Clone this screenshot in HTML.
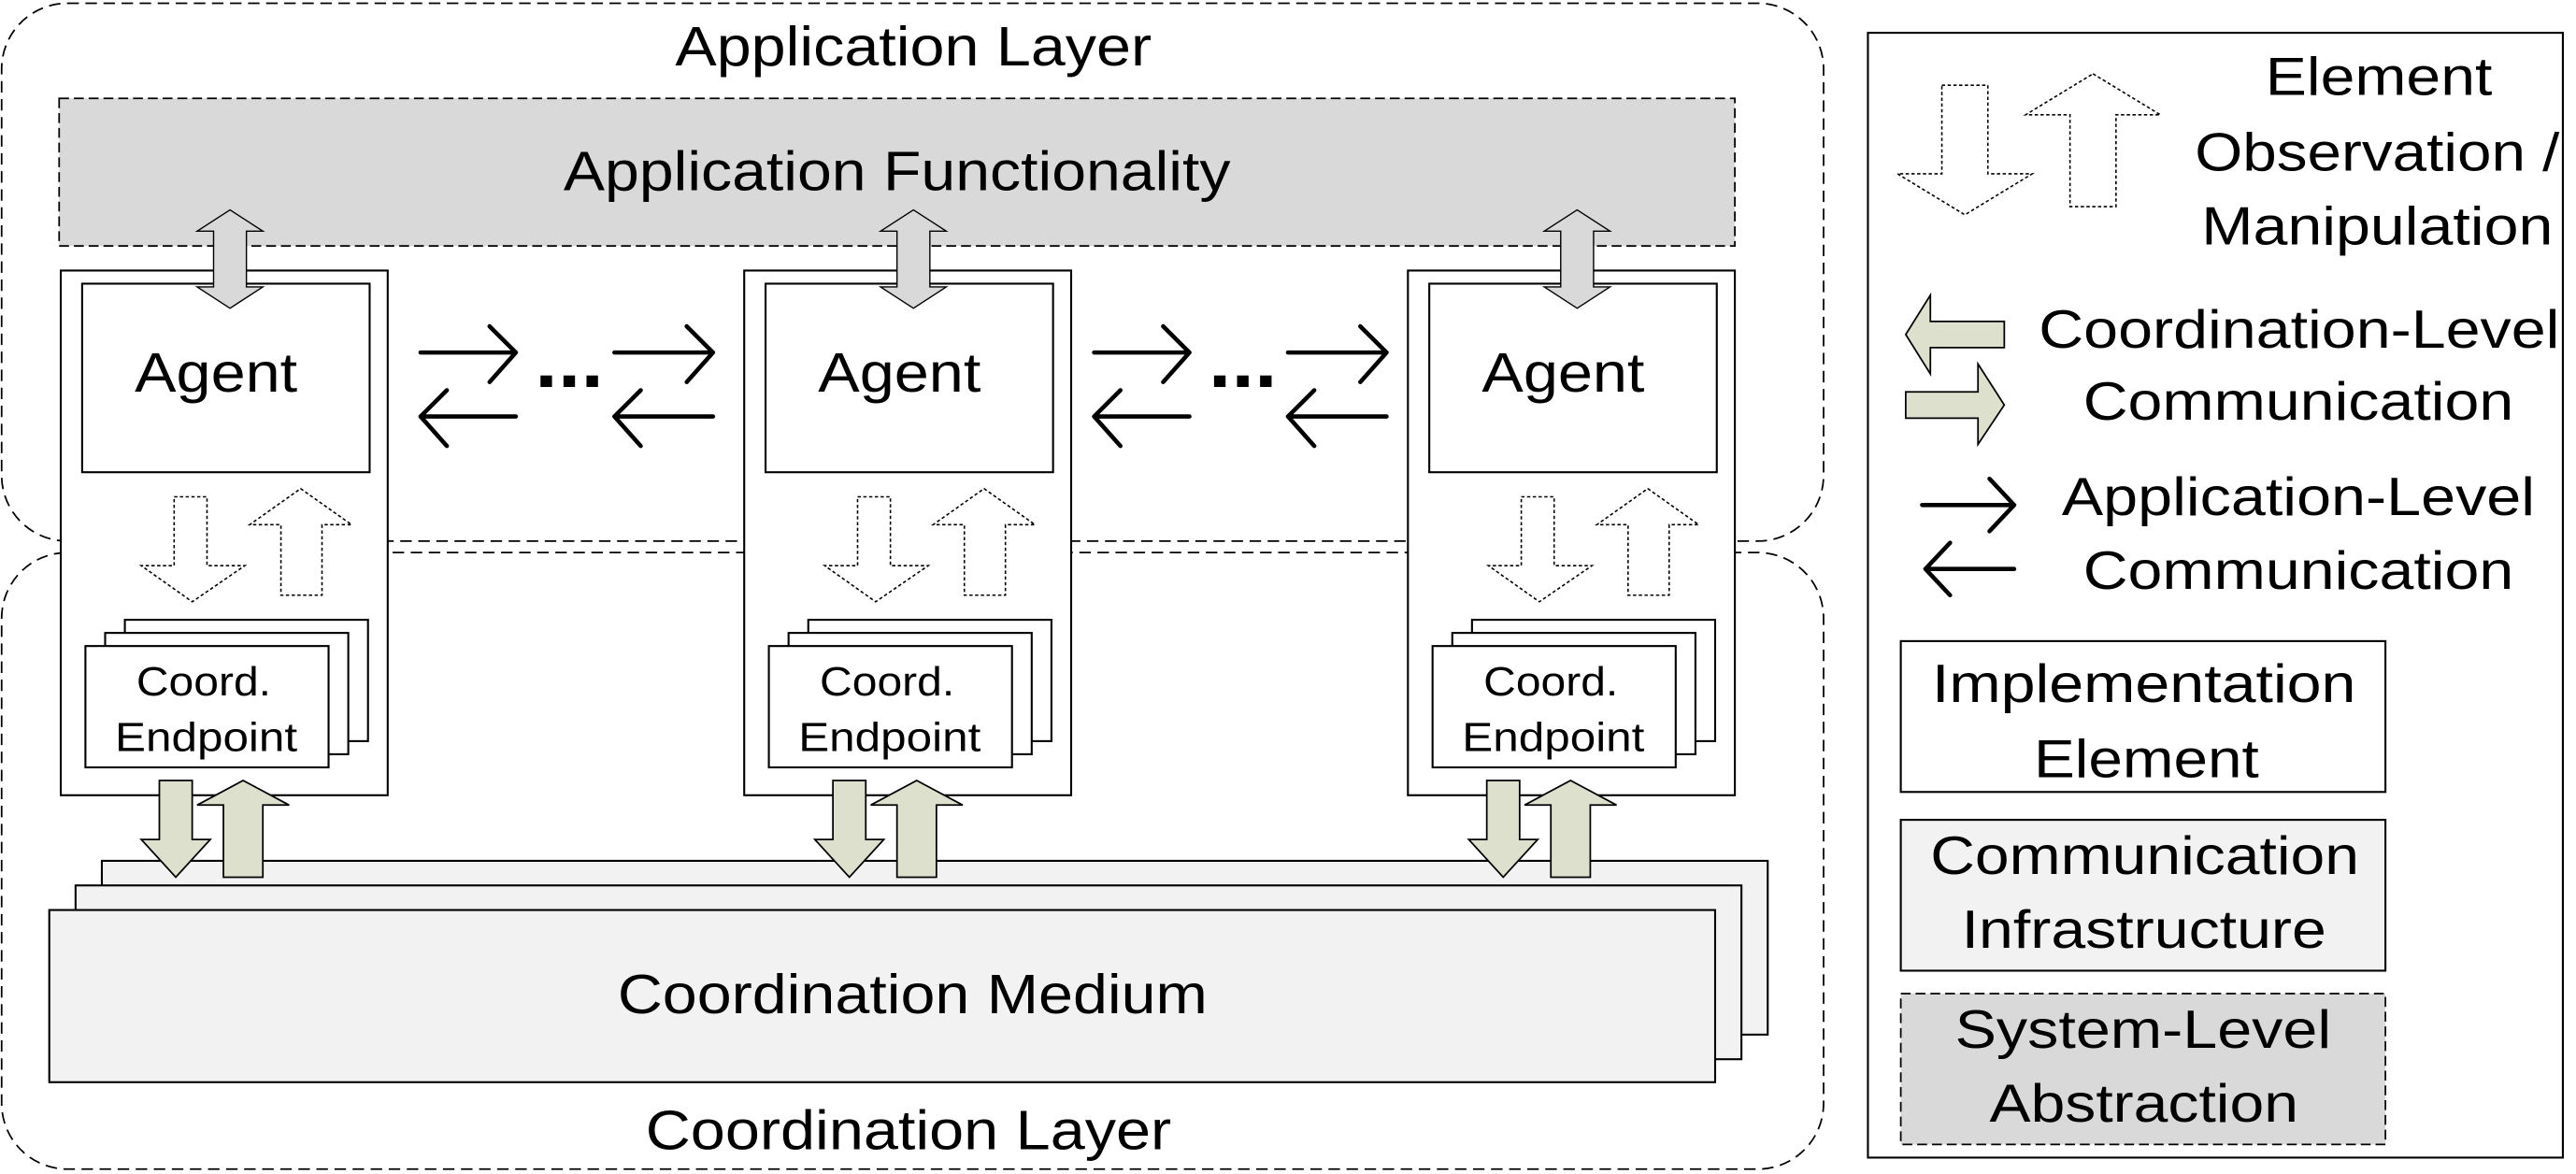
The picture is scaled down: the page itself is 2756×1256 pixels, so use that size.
<!DOCTYPE html>
<html><head><meta charset="utf-8"><style>
html,body{margin:0;padding:0;background:#fff;}
svg{display:block}
text{font-family:"Liberation Sans",Arial,sans-serif;fill:#000}
</style></head><body>
<svg width="2756" height="1256" viewBox="0 0 1568 716" preserveAspectRatio="none" xmlns="http://www.w3.org/2000/svg">
<defs>
<g id="agent">
  <rect x="37" y="165" width="199" height="320" fill="#fff" stroke="#000" stroke-width="1.2"/>
  <rect x="50" y="173" width="175" height="115" fill="#fff" stroke="#000" stroke-width="1.2"/>
  <text x="82" y="239" font-size="34" textLength="99" lengthAdjust="spacingAndGlyphs">Agent</text>
  <polygon points="140,128 160,141 150,141 150,175 160,175 140,188 120,175 130,175 130,141 120,141" fill="#d9d9d9" stroke="#000" stroke-width="0.8"/>
  <polygon points="106,303 126,303 126,345 149,345 117,367 86,345 106,345" fill="#fff" stroke="#000" stroke-width="0.9" stroke-dasharray="2,1.5"/>
  <polygon points="183,298 214,320 196,320 196,363 171,363 171,320 152,320" fill="#fff" stroke="#000" stroke-width="0.9" stroke-dasharray="2,1.5"/>
  <rect x="76" y="378" width="148" height="74" fill="#fff" stroke="#000" stroke-width="1.2"/>
  <rect x="64" y="386" width="148" height="74" fill="#fff" stroke="#000" stroke-width="1.2"/>
  <rect x="52" y="394" width="148" height="74" fill="#fff" stroke="#000" stroke-width="1.2"/>
  <text x="83" y="424" font-size="25" textLength="82" lengthAdjust="spacingAndGlyphs">Coord.</text>
  <text x="70" y="458" font-size="25" textLength="111" lengthAdjust="spacingAndGlyphs">Endpoint</text>
</g>
<g id="garrows">
  <polygon points="97,476 117,476 117,512 128,512 107,535 86,512 97,512" fill="#dde0cc" stroke="#000" stroke-width="1"/>
  <polygon points="148,476 176,491 160,491 160,535 136,535 136,491 120,491" fill="#dde0cc" stroke="#000" stroke-width="1"/>
</g>
<g id="apparrows">
  <g stroke="#000" stroke-width="2.6" fill="none" stroke-linecap="round" stroke-linejoin="round">
  <path d="M256,215 H314 M298,199 L314,215 L298,233"/>
  <path d="M256,254 H314 M272,238 L256,254 L272,272"/>
  <path d="M374,215 H434 M418,199 L434,215 L418,233"/>
  <path d="M374,254 H434 M390,238 L374,254 L390,272"/>
  </g>
  <rect x="329" y="229" width="7" height="7" fill="#000"/>
  <rect x="343" y="229" width="7" height="7" fill="#000"/>
  <rect x="357" y="229" width="7" height="7" fill="#000"/>
</g>
</defs>

<rect x="1" y="2" width="1109" height="328" rx="40" ry="40" fill="none" stroke="#000" stroke-width="1" stroke-dasharray="7,4"/>
<rect x="1" y="337" width="1109" height="376" rx="40" ry="40" fill="none" stroke="#000" stroke-width="1" stroke-dasharray="7,4"/>
<text x="411" y="40" font-size="34" textLength="290" lengthAdjust="spacingAndGlyphs">Application Layer</text>
<text x="393" y="701" font-size="34" textLength="320" lengthAdjust="spacingAndGlyphs">Coordination Layer</text>

<rect x="36" y="60" width="1020" height="90" fill="#d9d9d9" stroke="#000" stroke-width="1" stroke-dasharray="6,3"/>
<text x="343" y="116" font-size="34" textLength="406" lengthAdjust="spacingAndGlyphs">Application Functionality</text>

<rect x="62" y="525" width="1014" height="106" fill="#f2f2f2" stroke="#000" stroke-width="1.2"/>
<rect x="46" y="540" width="1014" height="106" fill="#f2f2f2" stroke="#000" stroke-width="1.2"/>
<rect x="30" y="555" width="1014" height="105" fill="#f2f2f2" stroke="#000" stroke-width="1.2"/>
<text x="376" y="618" font-size="34" textLength="359" lengthAdjust="spacingAndGlyphs">Coordination Medium</text>

<use href="#agent"/>
<use href="#agent" transform="translate(416,0)"/>
<use href="#agent" transform="translate(820,0)"/>
<use href="#garrows"/>
<use href="#garrows" transform="translate(410,0)"/>
<use href="#garrows" transform="translate(808,0)"/>
<use href="#apparrows"/>
<use href="#apparrows" transform="translate(410,0)"/>

<rect x="1137" y="20" width="423" height="686" fill="#fff" stroke="#000" stroke-width="1.2"/>
<polygon points="1182,52 1210,52 1210,106 1237,106 1196,131 1155,106 1182,106" fill="#fff" stroke="#000" stroke-width="0.9" stroke-dasharray="2,1.5"/>
<polygon points="1274,45 1315,70 1288,70 1288,126 1260,126 1260,70 1233,70" fill="#fff" stroke="#000" stroke-width="0.9" stroke-dasharray="2,1.5"/>
<text x="1379" y="58" font-size="33" textLength="138" lengthAdjust="spacingAndGlyphs">Element</text>
<text x="1336" y="104" font-size="33" textLength="222" lengthAdjust="spacingAndGlyphs">Observation /</text>
<text x="1340" y="149" font-size="33" textLength="214" lengthAdjust="spacingAndGlyphs">Manipulation</text>

<polygon points="1175,180 1175,196 1220,196 1220,212 1175,212 1175,228 1160,204" fill="#dde0cc" stroke="#000" stroke-width="1"/>
<polygon points="1204,222 1204,239 1160,239 1160,255 1204,255 1204,271 1220,247" fill="#dde0cc" stroke="#000" stroke-width="1"/>
<text x="1241" y="212" font-size="33" textLength="317" lengthAdjust="spacingAndGlyphs">Coordination-Level</text>
<text x="1268" y="256" font-size="33" textLength="262" lengthAdjust="spacingAndGlyphs">Communication</text>

<g stroke="#000" stroke-width="2.6" fill="none" stroke-linecap="round" stroke-linejoin="round">
  <path d="M1170,308 H1226 M1211,292 L1226,308 L1211,324"/>
  <path d="M1172,347 H1226 M1187,331 L1172,347 L1187,363"/>
</g>
<text x="1255" y="314" font-size="33" textLength="288" lengthAdjust="spacingAndGlyphs">Application-Level</text>
<text x="1268" y="359" font-size="33" textLength="262" lengthAdjust="spacingAndGlyphs">Communication</text>

<rect x="1157" y="391" width="295" height="92" fill="#fff" stroke="#000" stroke-width="1.2"/>
<text x="1176" y="428" font-size="33" textLength="258" lengthAdjust="spacingAndGlyphs">Implementation</text>
<text x="1238" y="474" font-size="33" textLength="137" lengthAdjust="spacingAndGlyphs">Element</text>
<rect x="1157" y="500" width="295" height="92" fill="#f2f2f2" stroke="#000" stroke-width="1.2"/>
<text x="1175" y="533" font-size="33" textLength="261" lengthAdjust="spacingAndGlyphs">Communication</text>
<text x="1194" y="578" font-size="33" textLength="222" lengthAdjust="spacingAndGlyphs">Infrastructure</text>
<rect x="1157" y="606" width="295" height="92" fill="#d9d9d9" stroke="#000" stroke-width="1" stroke-dasharray="6,3"/>
<text x="1190" y="639" font-size="33" textLength="229" lengthAdjust="spacingAndGlyphs">System-Level</text>
<text x="1211" y="684" font-size="33" textLength="188" lengthAdjust="spacingAndGlyphs">Abstraction</text>
</svg>
</body></html>
